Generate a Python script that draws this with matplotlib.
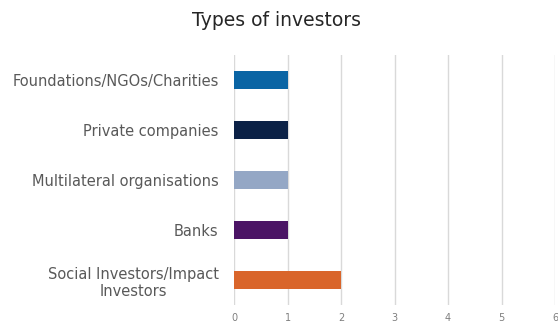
import matplotlib

matplotlib.use("Agg")

import matplotlib.pyplot as plt

# investor categories, top to bottom
categories = [
    "Foundations/NGOs/Charities",
    "Private companies",
    "Multilateral organisations",
    "Banks",
    "Social Investors/Impact\nInvestors",
]
counts = [1, 1, 1, 1, 2]
colours = ["#0a64a4", "#0b2146", "#94a7c5", "#4b1465", "#d9652b"]
x_ticks = [0, 1, 2, 3, 4, 5, 6]

fig = plt.figure(figsize=(5.58, 3.27), dpi=100)
ax = fig.add_axes([0.4194, 0.0673, 0.5753, 0.764])

pos = list(range(len(categories)))
ax.barh(pos, counts, height=0.36, color=colours, zorder=3)

ax.set_ylim(len(categories) - 0.5, -0.5)
ax.set_xlim(x_ticks[0], x_ticks[-1])
ax.set_xticks(x_ticks)
ax.set_yticks(pos)
ax.set_yticklabels(categories, fontsize=10.5, color="#595959",
                   multialignment="center")

ax.grid(axis="x", color="#d9d9d9", linewidth=1.0, zorder=0)
for s in ax.spines.values():
    s.set_visible(False)
ax.tick_params(axis="y", length=0, pad=11)
ax.tick_params(axis="x", length=0, pad=6, labelsize=7, labelcolor="#7f7f7f")

fig.text(0.495, 0.938, "Types of investors", ha="center", va="center",
         fontsize=13.5, color="#262626")

fig.savefig("out.png", dpi=100)
